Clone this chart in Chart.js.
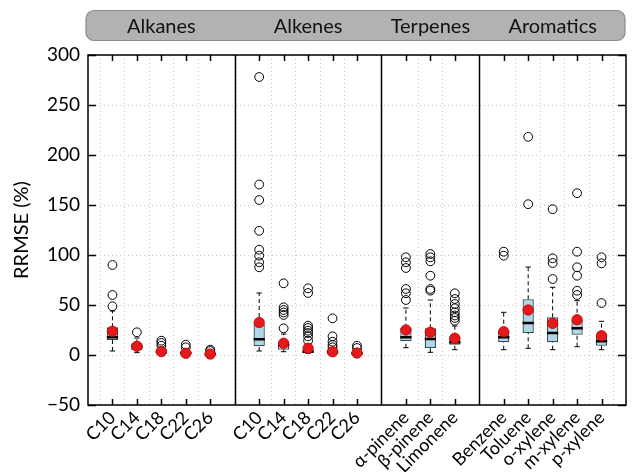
<!DOCTYPE html>
<html>
<head>
<meta charset="utf-8">
<script src="https://cdn.jsdelivr.net/npm/chart.js@4"></script>
<style>
html,body{margin:0;padding:0;background:#fff;}
#wrap{width:632px;height:472px;}
</style>
</head>
<body>
<div id="wrap"><canvas id="c" width="632" height="472"></canvas></div>
<script>
// ---- data ----
const groupNames = ['Alkanes', 'Alkenes', 'Terpenes', 'Aromatics'];
const groupSizes = [5, 5, 3, 5];
const categories = ['C10','C14','C18','C22','C26','C10','C14','C18','C22','C26','α-pinene','β-pinene','Limonene','Benzene','Toluene','o-xylene','m-xylene','p-xylene'];
const whiskerLow  = [4, 2.3, 0.5, 0.3, 0.2, 4, 3.3, 1.7, 0.5, 0.3, 7.3, 2.7, 5.3, 5.3, 6.7, 5.3, 8.3, 5.3];
const q1          = [15, 5, 1.7, 0.8, 0.5, 8.7, 5.3, 2, 1.2, 0.7, 13.7, 7, 10.3, 12.7, 22, 12.7, 20.3, 9.3];
const medians     = [17.7, 8.3, 3, 2, 1, 15.7, 10, 3.3, 2.5, 1.5, 17.7, 16, 12.7, 17.7, 32, 22, 26.7, 13.7];
const q3          = [27.7, 11.7, 5.3, 3.5, 2, 31, 12.7, 5.3, 5, 3, 27.3, 26.7, 18.3, 24.3, 55.7, 37.7, 35.3, 20.3];
const whiskerHigh = [44, 17, 7, 6, 3, 62, 21, 11, 6, 5, 47, 55, 29, 42.7, 88, 67.7, 54.3, 33.7];
const means       = [23.7, 8.7, 3.5, 1.7, 1, 32.5, 11.7, 6.7, 3.3, 2, 25, 22.7, 16.7, 23.3, 45, 31.7, 35.3, 19.3];
const outliers = [
  [90, 60, 48.7],
  [22.7],
  [14.3, 12, 9.3],
  [10.3, 7.7],
  [5.3, 4],
  [278, 170.5, 155, 124.2, 105.3, 99.3, 92.7, 87.7],
  [71.7, 47.7, 45, 42.5, 40, 26.7],
  [66.7, 62, 29.3, 27, 24.3, 22, 18.7, 14.3],
  [36.7, 18.7, 13.3, 10, 7.7],
  [9.3, 7],
  [97.7, 92.7, 87, 66, 61.7, 55],
  [101, 97.7, 93.7, 79.3, 66, 64.3],
  [61.7, 56, 51, 46.7, 42.7, 39.5, 37, 34.3],
  [103.3, 99.3],
  [218.2, 150.8],
  [145.8, 96.7, 92, 76],
  [161.8, 103.3, 87.7, 79.3, 64.3, 60],
  [97.7, 91.7, 52]
];
const yTickLabels = [-50, 0, 50, 100, 150, 200, 250, 300];
const yTitle = 'RRMSE (%)';

// ---- derived positions (each group occupies size+1 units) ----
const positions = [];
const separators = [];
let off = 0;
groupSizes.forEach((n, g) => {
  for (let i = 1; i <= n; i++) positions.push(off + i);
  off += n + 1;
  if (g < groupSizes.length - 1) separators.push(off);
});
const xMax = off;
const panelBounds = [];
{ let s = 0; groupSizes.forEach(n => { panelBounds.push([s, s + n + 1]); s += n + 1; }); }

const BOX_W = 0.46, CAP_W = 0.11, MED_W = BOX_W / 2;

const boxData = positions.map((x, i) => ({x, y: [q1[i], q3[i]]}));
const whiskerData = [];
const capData = [];
const medianData = [];
positions.forEach((x, i) => {
  whiskerData.push({x, y: whiskerLow[i]}, {x, y: q1[i]}, {x, y: null});
  whiskerData.push({x, y: q3[i]}, {x, y: whiskerHigh[i]}, {x, y: null});
  capData.push({x: x - CAP_W, y: whiskerLow[i]}, {x: x + CAP_W, y: whiskerLow[i]}, {x, y: null});
  capData.push({x: x - CAP_W, y: whiskerHigh[i]}, {x: x + CAP_W, y: whiskerHigh[i]}, {x, y: null});
  medianData.push({x: x - MED_W, y: medians[i]}, {x: x + MED_W, y: medians[i]}, {x, y: null});
});
const outlierData = [];
positions.forEach((x, i) => outliers[i].forEach(v => outlierData.push({x, y: v})));
const meanData = positions.map((x, i) => ({x, y: means[i]}));

const FONT = 'Lato, "Open Sans", sans-serif';

const framePlugin = {
  id: 'frame',
  afterDraw(chart) {
    const {ctx, chartArea: a, scales: {x, y}} = chart;
    ctx.save();
    ctx.strokeStyle = '#000';
    ctx.lineWidth = 1.5;
    ctx.strokeRect(a.left, a.top, a.right - a.left, a.bottom - a.top);
    separators.forEach(s => {
      const px = Math.round(x.getPixelForValue(s)) + 0.5;
      ctx.beginPath(); ctx.moveTo(px, a.top); ctx.lineTo(px, a.bottom); ctx.stroke();
    });
    ctx.lineWidth = 1.5;
    positions.forEach(p => {
      const px = Math.round(x.getPixelForValue(p)) + 0.5;
      ctx.beginPath();
      ctx.moveTo(px, a.bottom); ctx.lineTo(px, a.bottom - 6);
      ctx.moveTo(px, a.top); ctx.lineTo(px, a.top + 6);
      ctx.stroke();
    });
    yTickLabels.forEach(v => {
      const py = Math.round(y.getPixelForValue(v)) + 0.5;
      ctx.beginPath();
      ctx.moveTo(a.left, py); ctx.lineTo(a.left + 8, py);
      ctx.moveTo(a.right, py); ctx.lineTo(a.right - 8, py);
      ctx.stroke();
    });
    // y-axis title, centred on the plot area
    ctx.save();
    ctx.translate(22, (a.top + a.bottom) / 2);
    ctx.rotate(-Math.PI / 2);
    ctx.fillStyle = '#000';
    ctx.font = '20px ' + FONT;
    ctx.textAlign = 'center';
    ctx.textBaseline = 'middle';
    ctx.fillText(yTitle, 0, 0);
    ctx.restore();
    // header strip
    const hx0 = a.left - 2, hx1 = a.right - 1, hy0 = 10.5, hy1 = 40.5, r = 8;
    ctx.beginPath();
    ctx.roundRect(hx0, hy0, hx1 - hx0, hy1 - hy0, r);
    ctx.fillStyle = '#b2b2b2';
    ctx.fill();
    ctx.strokeStyle = '#8a8a8a';
    ctx.lineWidth = 1.2;
    ctx.stroke();
    ctx.fillStyle = '#111';
    ctx.font = '20px ' + FONT;
    ctx.textAlign = 'center';
    ctx.textBaseline = 'middle';
    groupNames.forEach((g, i) => {
      const cx = (x.getPixelForValue(panelBounds[i][0]) + x.getPixelForValue(panelBounds[i][1])) / 2;
      ctx.fillText(g, cx, (hy0 + hy1) / 2 + 1);
    });
    ctx.restore();
  }
};

new Chart(document.getElementById('c'), {
  type: 'bar',
  data: {
    datasets: [
      {
        type: 'bar', data: boxData, order: 5,
        backgroundColor: '#add8e6', borderColor: '#3a4a55', borderWidth: 1.3,
        borderSkipped: false, categoryPercentage: 1, barPercentage: BOX_W
      },
      {
        type: 'line', data: whiskerData, order: 4, spanGaps: false,
        borderColor: '#000', borderWidth: 1, borderDash: [4, 3], pointRadius: 0, fill: false
      },
      {
        type: 'line', data: capData, order: 4, spanGaps: false,
        borderColor: '#000', borderWidth: 1, pointRadius: 0, fill: false
      },
      {
        type: 'line', data: medianData, order: 3, spanGaps: false,
        borderColor: '#000', borderWidth: 2.5, pointRadius: 0, fill: false
      },
      {
        type: 'scatter', data: outlierData, order: 2,
        pointStyle: 'circle', pointRadius: 4.4, backgroundColor: 'rgba(255,255,255,0)',
        borderColor: '#000', borderWidth: 1
      },
      {
        type: 'scatter', data: meanData, order: 1,
        pointStyle: 'circle', pointRadius: 5.2, backgroundColor: '#e31a1c',
        borderColor: '#c40000', borderWidth: 0.8
      }
    ]
  },
  options: {
    responsive: false,
    animation: false,
    events: [],
    layout: {padding: {top: 55, right: 1, left: 0, bottom: 0}},
    plugins: {legend: {display: false}, tooltip: {enabled: false}},
    scales: {
      x: {
        type: 'linear', min: 0, max: xMax, offset: false,
        afterBuildTicks(scale) { scale.ticks = positions.map(v => ({value: v})); },
        afterFit(scale) { scale.height = 67; },
        ticks: {
          autoSkip: false, minRotation: 45, maxRotation: 45, padding: 2,
          color: '#000', font: {family: FONT, size: 18},
          callback(value) { const i = positions.indexOf(value); return i >= 0 ? categories[i] : ''; }
        },
        grid: {color: '#c8c8c8', lineWidth: 1, drawTicks: false},
        border: {display: false, dash: [1, 3]}
      },
      y: {
        min: -50, max: 300,
        afterFit(scale) { scale.width = 88; },
        ticks: {
          stepSize: 25, padding: 8, color: '#000', font: {family: FONT, size: 19},
          callback(v) { return (v % 50 === 0) ? String(v).replace('-', '\u2212') : ''; }
        },
        grid: {color: '#c8c8c8', lineWidth: 1, drawTicks: false},
        border: {display: false, dash: [1, 3]},
        title: {display: false}
      }
    }
  },
  plugins: [framePlugin]
});
</script>
</body>
</html>
